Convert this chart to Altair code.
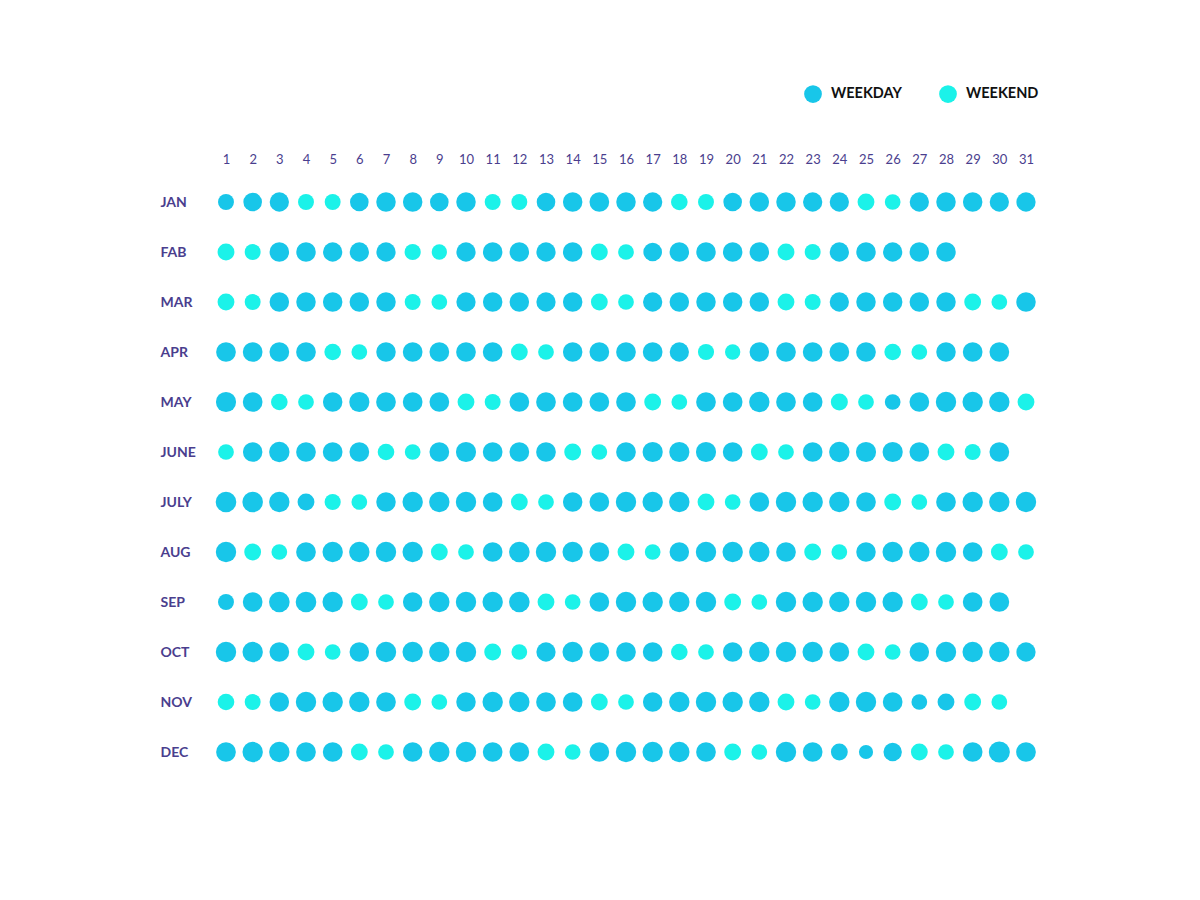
import math
import altair as alt
import pandas as pd

months = ["JAN", "FAB", "MAR", "APR", "MAY", "JUNE", "JULY", "AUG", "SEP", "OCT", "NOV", "DEC"]

jan = [72, 84, 87, 72, 72, 84, 88, 88, 84, 88, 72, 72, 84, 88, 89, 88, 87, 75, 72, 84, 88, 88, 87, 87, 76, 71, 87, 88, 88, 87, 87]
feb = [76, 72, 88, 88, 87, 87, 87, 73, 69, 87, 88, 88, 87, 88, 76, 71, 84, 88, 88, 88, 88, 76, 72, 87, 88, 87, 88, 88]
mar = [76, 72, 88, 88, 88, 88, 88, 72, 71, 87, 88, 88, 87, 88, 76, 71, 87, 88, 88, 88, 88, 76, 72, 87, 88, 88, 88, 88, 76, 71, 88]
apr = [89, 89, 89, 89, 75, 71, 88, 89, 89, 89, 89, 76, 71, 88, 89, 89, 89, 87, 73, 69, 88, 89, 89, 89, 89, 75, 71, 88, 89, 89]
may = [91, 89, 75, 71, 88, 91, 89, 89, 89, 76, 72, 89, 89, 89, 89, 89, 76, 71, 89, 89, 92, 89, 89, 77, 71, 71, 89, 92, 92, 92, 76]
jun = [71, 88, 92, 89, 89, 89, 75, 71, 89, 91, 89, 89, 89, 76, 71, 89, 91, 91, 91, 89, 76, 71, 89, 92, 91, 91, 89, 76, 72, 89]
jul = [93, 93, 92, 76, 73, 71, 88, 92, 92, 92, 89, 76, 71, 88, 89, 92, 92, 92, 76, 71, 89, 92, 92, 92, 89, 76, 71, 89, 92, 92, 92]
aug = [92, 76, 71, 89, 92, 92, 92, 92, 76, 71, 89, 93, 92, 92, 89, 76, 71, 88, 92, 92, 92, 89, 76, 71, 88, 92, 92, 92, 89, 76, 71]
sep = [72, 89, 93, 93, 92, 76, 71, 88, 92, 92, 92, 93, 76, 71, 89, 92, 92, 92, 92, 76, 71, 92, 92, 92, 92, 92, 76, 71, 89, 89]
oct_ = [92, 92, 89, 76, 71, 88, 92, 92, 92, 92, 76, 71, 87, 92, 89, 89, 89, 75, 71, 88, 92, 92, 92, 89, 76, 71, 88, 92, 92, 92, 87]
nov = [75, 72, 88, 92, 92, 92, 89, 76, 71, 88, 92, 92, 89, 89, 76, 71, 88, 92, 92, 92, 92, 76, 71, 92, 92, 89, 71, 76, 76, 71]
dec = [89, 92, 92, 89, 89, 76, 71, 88, 92, 92, 89, 89, 76, 71, 89, 92, 92, 92, 89, 76, 71, 92, 89, 76, 64, 83, 76, 71, 89, 95, 89]

values = [jan, feb, mar, apr, may, jun, jul, aug, sep, oct_, nov, dec]

weekends = [
    [4, 5, 11, 12, 18, 19, 25, 26],
    [1, 2, 8, 9, 15, 16, 22, 23],
    [1, 2, 8, 9, 15, 16, 22, 23, 29, 30],
    [5, 6, 12, 13, 19, 20, 26, 27],
    [3, 4, 10, 11, 17, 18, 24, 25, 31],
    [1, 7, 8, 14, 15, 21, 22, 28, 29],
    [5, 6, 12, 13, 19, 20, 26, 27],
    [2, 3, 9, 10, 16, 17, 23, 24, 30, 31],
    [6, 7, 13, 14, 20, 21, 27, 28],
    [4, 5, 11, 12, 18, 19, 25, 26],
    [1, 2, 8, 9, 15, 16, 22, 23, 29, 30],
    [6, 7, 13, 14, 20, 21, 27, 28],
]

day_labels = list(range(1, 32))

rows = []
for m, vals, we in zip(months, values, weekends):
    for i, v in enumerate(vals):
        d = i + 1
        rows.append({"month": m, "day": d, "value": v,
                     "type": "WEEKEND" if d in we else "WEEKDAY"})
df = pd.DataFrame(rows)

TEXT = "#4A3E8E"
FONT = "Lato"

chart = alt.Chart(df).mark_circle(opacity=1).encode(
    x=alt.X("day:Q",
            scale=alt.Scale(domain=[1, 31], nice=False, zero=False),
            axis=alt.Axis(orient="top", values=day_labels, ticks=False, domain=False,
                          grid=False, labelPadding=11, labelFontSize=13, labelColor=TEXT,
                          labelFont=FONT, labelFlush=False, labelOverlap=False,
                          format="d", title=None)),
    y=alt.Y("month:N", sort=months,
            scale=alt.Scale(paddingInner=0, paddingOuter=0),
            axis=alt.Axis(ticks=False, domain=False, grid=False, labelAlign="left",
                          labelPadding=66, labelFontWeight="bold", labelFontSize=14,
                          labelColor=TEXT, labelFont=FONT, title=None)),
    size=alt.Size("value:Q",
                  scale=alt.Scale(type="pow", exponent=2, domain=[0, 100],
                                  range=[0, math.pi * 100 * 100 / 64]),
                  legend=None),
    color=alt.Color("type:N",
                    scale=alt.Scale(domain=["WEEKDAY", "WEEKEND"],
                                    range=["#18C6E9", "#1BF2E9"]),
                    legend=alt.Legend(orient="none", legendX=578, legendY=-92,
                                      direction="horizontal", title=None,
                                      symbolType="circle", symbolSize=314,
                                      symbolStrokeWidth=0, symbolOpacity=1,
                                      labelFont=FONT, labelFontWeight="bold",
                                      labelFontSize=14.5, labelColor="#111111",
                                      labelOffset=9, columnPadding=37)),
).properties(
    width=800,
    height=600,
    background="white",
    autosize=alt.AutoSizeParams(type="none"),
    padding={"left": 218, "top": 169, "right": 150, "bottom": 100},
).configure_view(strokeWidth=0, stroke="transparent")

chart.save("out.html", embed_options={"renderer": "svg", "actions": False})
